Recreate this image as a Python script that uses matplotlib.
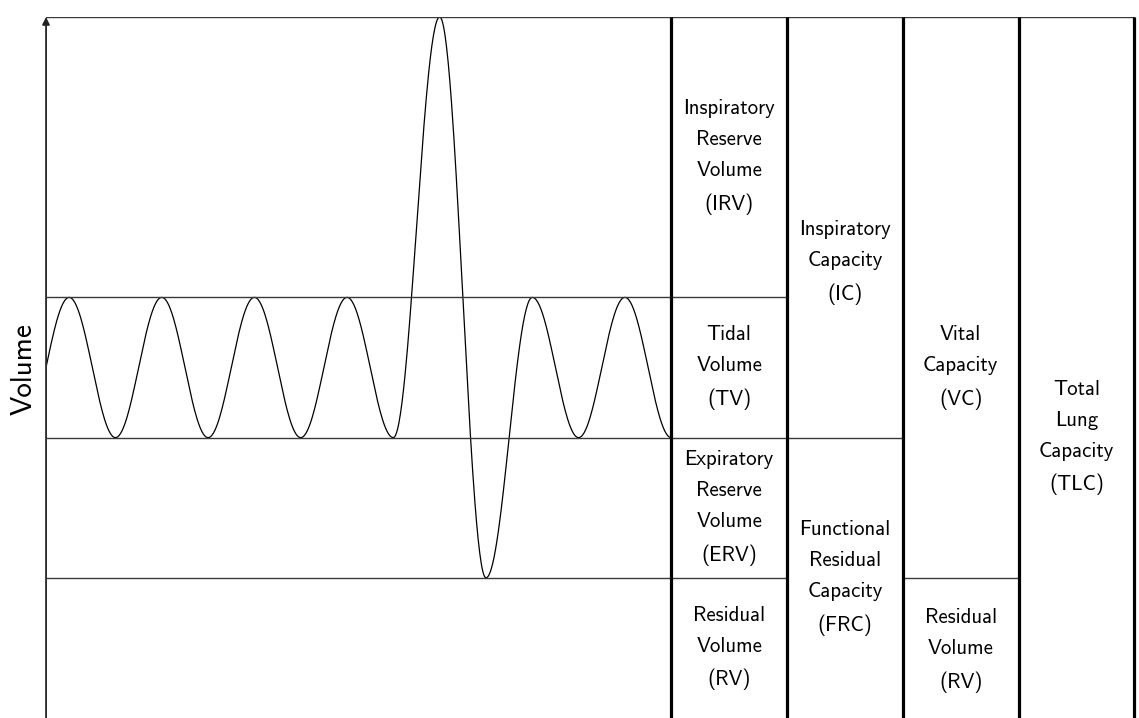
import numpy as np
import matplotlib
matplotlib.use("Agg")
import matplotlib.pyplot as plt

plt.rcParams['font.family'] = ['cmss10', 'DejaVu Sans']

# breathing trace: volume at each turning point (half breaths), starting half a breath before t=0
turn_t = [-0.5, 0.5, 1.5, 2.5, 3.5, 4.5, 5.5, 6.5, 7.5, 8.5, 9.5, 10.5, 11.5, 12.5, 13.5]
turn_v = [2, 3, 2, 3, 2, 3, 2, 3, 2, 5, 1, 3, 2, 3, 2]

# volume levels
rv_top = 1
tv_bottom = 2
tv_top = 3
tlc = 5

# column boundaries (right of the trace)
cols = [13.5, 16.0, 18.5, 21.0, 23.5]

labels = [
    ("Inspiratory\nReserve\nVolume\n(IRV)", 14.75, 4.0),
    ("Tidal\nVolume\n(TV)", 14.75, 2.5),
    ("Expiratory\nReserve\nVolume\n(ERV)", 14.75, 1.5),
    ("Residual\nVolume\n(RV)", 14.75, 0.5),
    ("Inspiratory\nCapacity\n(IC)", 17.25, 3.25),
    ("Functional\nResidual\nCapacity\n(FRC)", 17.25, 1.0),
    ("Vital\nCapacity\n(VC)", 19.75, 2.5),
    ("Residual\nVolume\n(RV)", 19.75, 0.48),
    ("Total\nLung\nCapacity\n(TLC)", 22.25, 2.0),
]

fig = plt.figure(figsize=(11.39, 7.18), dpi=100)
ax = fig.add_axes([46 / 1139, 0, 1093 / 1139, 701 / 718])
ax.set_xlim(0, 23.6)
ax.set_ylim(0, 5)
ax.axis('off')

# smooth half-cosine between turning points
xs, ys = [], []
for i in range(len(turn_t) - 1):
    s = np.linspace(0, 1, 60)
    x = turn_t[i] + s * (turn_t[i + 1] - turn_t[i])
    y = turn_v[i] + (turn_v[i + 1] - turn_v[i]) * (1 - np.cos(np.pi * s)) / 2
    keep = x >= 0
    xs.extend(x[keep])
    ys.extend(y[keep])
ax.plot(xs, ys, color='black', lw=0.9, solid_capstyle='butt')

thin = dict(color='#3a3a3a', lw=1.0)
ax.plot([0, cols[1]], [tv_top, tv_top], **thin)
ax.plot([0, cols[2]], [tv_bottom, tv_bottom], **thin)
ax.plot([0, cols[1]], [rv_top, rv_top], **thin)
ax.plot([cols[2], cols[3]], [rv_top, rv_top], **thin)
ax.plot([0, cols[-1]], [tlc, tlc], **thin)

for c in cols:
    ax.plot([c, c], [0, tlc], color='black', lw=2.3, solid_capstyle='butt')

# y axis with arrow
ax.annotate('', xy=(0, tlc), xytext=(0, 0),
            arrowprops=dict(arrowstyle='-|>', color='#222222', lw=1.2,
                            mutation_scale=11, shrinkA=0, shrinkB=0))
ax.plot([0, 0], [0, tlc - 0.05], color='#555555', lw=1.4)

for txt, x, y in labels:
    ax.text(x, y, txt, ha='center', va='center', fontsize=15,
            linespacing=1.8, multialignment='center')

fig.text(24 / 1139, 1 - 369 / 718, 'Volume', rotation=90, ha='center',
         va='center', fontsize=21)

fig.savefig('out.png', dpi=100)
